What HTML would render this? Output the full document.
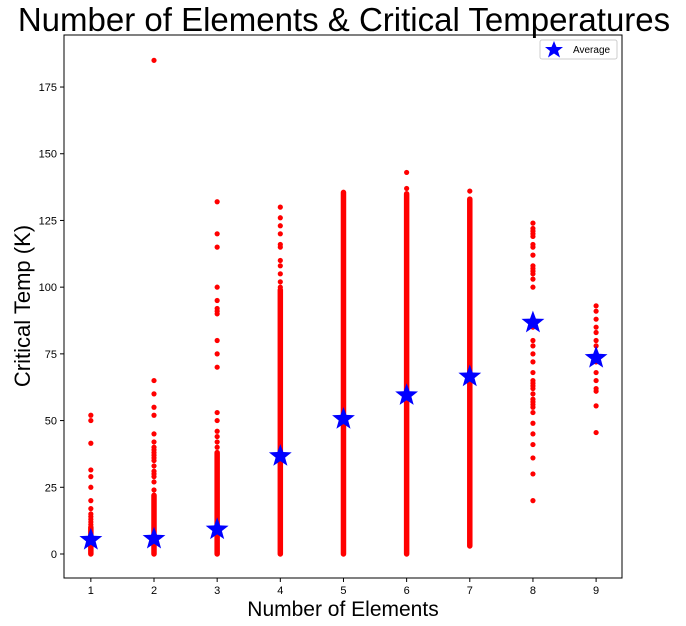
<!DOCTYPE html>
<html><head><meta charset="utf-8"><style>
body{margin:0;background:#fff;width:686px;height:626px;overflow:hidden}
svg{display:block;font-family:"Liberation Sans",sans-serif}
</style></head><body>
<svg id="chart" width="686" height="626">
<text x="344" y="31" font-size="33" text-anchor="middle" fill="#000">Number of Elements &amp; Critical Temperatures</text>
<text x="343" y="616" font-size="21" text-anchor="middle">Number of Elements</text>
<text transform="translate(30,306) rotate(-90)" font-size="22" text-anchor="middle">Critical Temp (K)</text>
<g id="marks"></g>
<g id="axes"></g>
<g>
<rect x="540" y="40" width="77" height="19" rx="2" fill="#fff" stroke="#ccc"/>
<polygon points="554,41 556.5,47 563,47 558,51 560,57.5 554,53.5 548,57.5 550,51 545,47 551.5,47" fill="#0000ff"/>
<text x="573" y="53" font-size="10">Average</text>
</g>
</svg>
<script>
const categories=[1,2,3,4,5,6,7,8,9];
const denseLo=[0,0,0,0,0,0,3,null,null];
const denseHi=[10,22,38,99,135.5,135,133,null,null];
const outliers=[
[11,12,13,14,15,17,20,25,29,31.5,41.5,50,52],
[24,27,29,30,31,33,35,36,37,38,39,40,42,45,52,55,60,65,185],
[40,42,44,46,50,53,70,75,80,90,91,92,95,100,115,120,132],
[100,102,105,108,110,115,116,120,123,126,130],
[],
[137,143],
[136],
[20,30,36,41,45,49,53,55,56,57,58,60,62,63,64,65,68,72,75,78,80,85,100,103,105,106,107,108,112,115,116,119,120,121,122,124],
[45.5,55.5,61,62,65,68,72,75,78,80,83,85,88,91,93]];
const averages=[5.3,5.7,9.2,36.7,50.6,59.5,66.5,86.7,73.5];
const yTicks=[0,25,50,75,100,125,150,175];
const xTicks=[1,2,3,4,5,6,7,8,9];

const L=64,R=622,T=35,B=578;
const xMin=0.575,xMax=9.41,yMin=-9,yMax=194.5;
const sx=v=>L+(v-xMin)/(xMax-xMin)*(R-L);
const sy=v=>B-(v-yMin)/(yMax-yMin)*(B-T);
const NS="http://www.w3.org/2000/svg";
const marks=document.getElementById('marks'),axes=document.getElementById('axes');
function mk(tag,a,p){const e=document.createElementNS(NS,tag);for(const k in a)e.setAttribute(k,a[k]);p.appendChild(e);return e;}

categories.forEach((c,i)=>{
  if(denseLo[i]!==null){
    const r=mk('line',{x1:sx(c),x2:sx(c),y1:sy(denseLo[i]),y2:sy(denseHi[i]),stroke:'#ff0000','stroke-width':5.5,'stroke-linecap':'round'},marks);
    
    
  }
  outliers[i].forEach(v=>{
    const d=mk('circle',{cx:sx(c),cy:sy(v),r:2.6,fill:'#ff0000'},marks);
    
    
  });
});
categories.forEach((c,i)=>{
  const cx=sx(c),cy=sy(averages[i]),Ro=12,Ri=5;let pts=[];
  for(let k=0;k<10;k++){const a=-Math.PI/2+k*Math.PI/5,rr=k%2?Ri:Ro;pts.push((cx+rr*Math.cos(a)).toFixed(1)+','+(cy+rr*Math.sin(a)).toFixed(1));}
  const s=mk('polygon',{points:pts.join(' '),fill:'#0000ff'},marks);
  
  
});
const fr=mk('rect',{x:L,y:T,width:R-L,height:B-T,fill:'none',stroke:'#000','stroke-width':1},axes);


yTicks.forEach(v=>{
  mk('line',{x1:L-4,x2:L,y1:sy(v),y2:sy(v),stroke:'#000'},axes);
  const t=mk('text',{x:L-7,y:sy(v)+4,'font-size':11,'text-anchor':'end'},axes);t.textContent=v;
  
  
});
xTicks.forEach(v=>{
  mk('line',{x1:sx(v),x2:sx(v),y1:B,y2:B+4,stroke:'#000'},axes);
  const t=mk('text',{x:sx(v),y:B+16,'font-size':11,'text-anchor':'middle'},axes);t.textContent=v;
  
  
});
</script>
</body></html>
